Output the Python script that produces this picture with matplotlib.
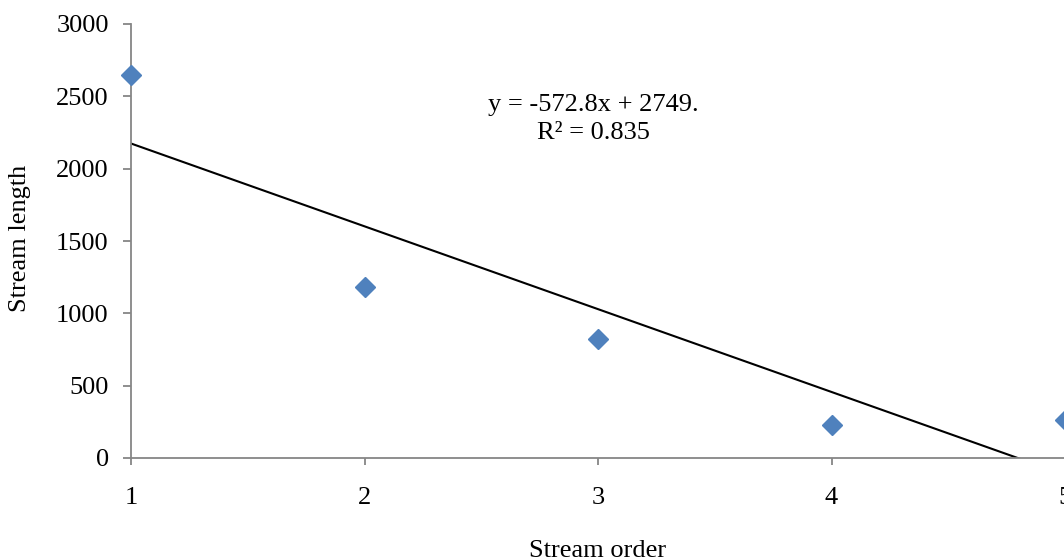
import matplotlib
matplotlib.use("Agg")
import matplotlib.pyplot as plt
import numpy as np

stream_order = [1, 2, 3, 4, 5]
stream_length = [2650, 1180, 825, 225, 265]
y_ticks = [0, 500, 1000, 1500, 2000, 2500, 3000]
x_ticks = [1, 2, 3, 4, 5]
equation_text = "y = -572.8x + 2749.\nR² = 0.835"

plt.rcParams['font.family'] = ['Liberation Serif', 'DejaVu Serif']

W, H = 1064, 558
fig = plt.figure(figsize=(W / 100, H / 100), dpi=100)
left, right, bottom, top = 131, 1065, 458, 24
ax = fig.add_axes([left / W, 1 - bottom / H, (right - left) / W, (bottom - top) / H])

slope, intercept = np.polyfit(stream_order, stream_length, 1)
xl = np.array([1, 5])
ax.plot(xl, slope * xl + intercept, color='black', lw=1.5, zorder=2)
ax.plot(stream_order, stream_length, linestyle='none', marker='D', markersize=10,
        color='#4F81BD', zorder=3, clip_on=False)

ax.set_xlim(1, 5)
ax.set_ylim(0, 3000)
ax.set_xticks(x_ticks)
ax.set_yticks(y_ticks)
for s in ['top', 'right']:
    ax.spines[s].set_visible(False)
for s in ['left', 'bottom']:
    ax.spines[s].set_color('#868686')
    ax.spines[s].set_linewidth(1.3)
ax.tick_params(axis='y', direction='out', length=6, width=1.3, color='#868686',
               labelsize=19, pad=10)
ax.tick_params(axis='x', direction='out', length=5, width=1.3, color='#868686',
               labelsize=19, pad=16)

fig.text(598 / W, 1 - 557 / H, 'Stream order', fontsize=19, ha='center', va='baseline')
fig.text(20 / W, 1 - 238 / H, 'Stream length', fontsize=19, ha='center', va='center',
         rotation=90)

fig.text(593 / W, 1 - 119 / H, equation_text, fontsize=19, ha='center', va='center',
         linespacing=1.3)

fig.savefig('out.png', dpi=100)
